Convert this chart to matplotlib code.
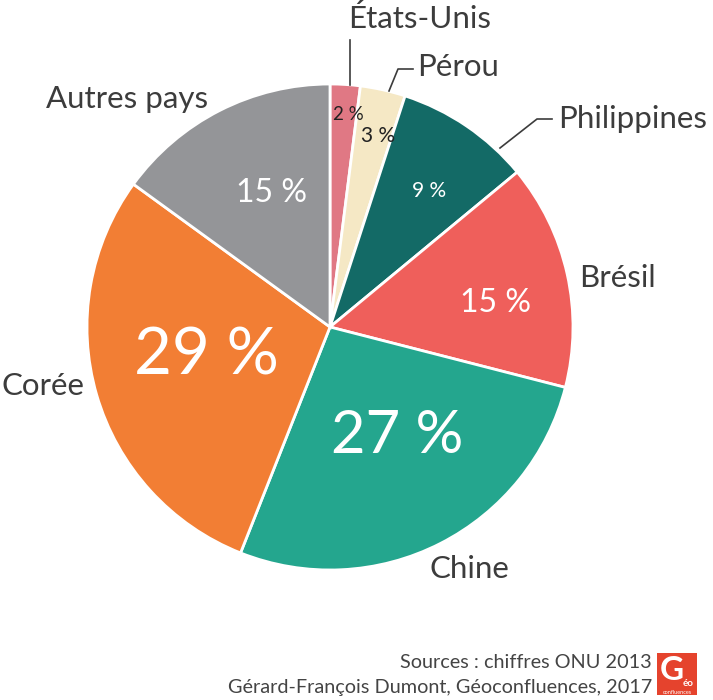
import matplotlib.pyplot as plt
from matplotlib.patches import Rectangle

# Données (chiffres ONU 2013)
pays = ['États-Unis', 'Pérou', 'Philippines', 'Brésil', 'Chine', 'Corée', 'Autres pays']
parts = [2, 3, 9, 15, 27, 29, 15]
etiquettes = ['2 %', '3 %', '9 %', '15 %', '27 %', '29 %', '15 %']

couleurs = ['#e07884', '#f5e8c5', '#136a66', '#ef5f5b', '#24a68e', '#f27e34', '#949598']
pct_couleurs = ['#222222', '#222222', 'white', 'white', 'white', 'white', 'white']
pct_tailles = [13.5, 15, 15, 23, 43, 47, 23]

# positions en pixels (x, y depuis le haut)
pct_pos = [(348, 114), (378, 136), (429, 191), (496, 303), (397, 436), (206, 356), (271, 193)]
nom_pos = [(420, 18), (458, 67), (633, 119), (617, 278), (469, 569), (43, 386), (127, 99)]

plt.rcParams['font.family'] = ['Lato', 'DejaVu Sans']

W, H = 713, 700
fig = plt.figure(figsize=(W / 100, H / 100), dpi=100)
ax = fig.add_axes([0, 0, 1, 1])

def Y(py):
    return H - py

cx, cy, r = 330, 327, 243
ax.pie(parts, colors=couleurs, startangle=90, counterclock=False,
       center=(cx, Y(cy)), radius=r, frame=True,
       wedgeprops=dict(edgecolor='white', linewidth=2))
ax.set_xlim(0, W)
ax.set_ylim(0, H)
ax.set_aspect('equal')
ax.axis('off')

for lab, (x, y), c, s in zip(etiquettes, pct_pos, pct_couleurs, pct_tailles):
    ax.text(x, Y(y), lab, color=c, fontsize=s, ha='center', va='center')

gris = '#3c3c3c'
for nom, (x, y) in zip(pays, nom_pos):
    ax.text(x, Y(y), nom, color=gris, fontsize=22.5, ha='center', va='center')

# traits de rappel
ax.plot([350, 350], [Y(40), Y(85)], color=gris, lw=1.2)
ax.plot([389, 398, 413], [Y(91), Y(69), Y(69)], color=gris, lw=1.2)
ax.plot([500, 537, 552], [Y(148), Y(119), Y(119)], color=gris, lw=1.2)

# sources
ax.text(652, Y(662), 'Sources : chiffres ONU 2013', color='#444444', fontsize=14.3,
        ha='right', va='center')
ax.text(652, Y(687), 'Gérard-François Dumont, Géoconfluences, 2017', color='#444444',
        fontsize=14.3, ha='right', va='center')

# logo
ax.add_patch(Rectangle((657, Y(695)), 40, 42, color='#e5432d', lw=0))
ax.text(672, Y(671), 'G', color='white', fontsize=24, fontweight='bold', ha='center', va='center')
ax.text(688, Y(684), 'éo', color='white', fontsize=7, fontweight='bold', ha='center', va='center')
ax.text(677, Y(693), 'confluences', color='white', fontsize=4, ha='center', va='center')

fig.savefig('out.png', dpi=100)
